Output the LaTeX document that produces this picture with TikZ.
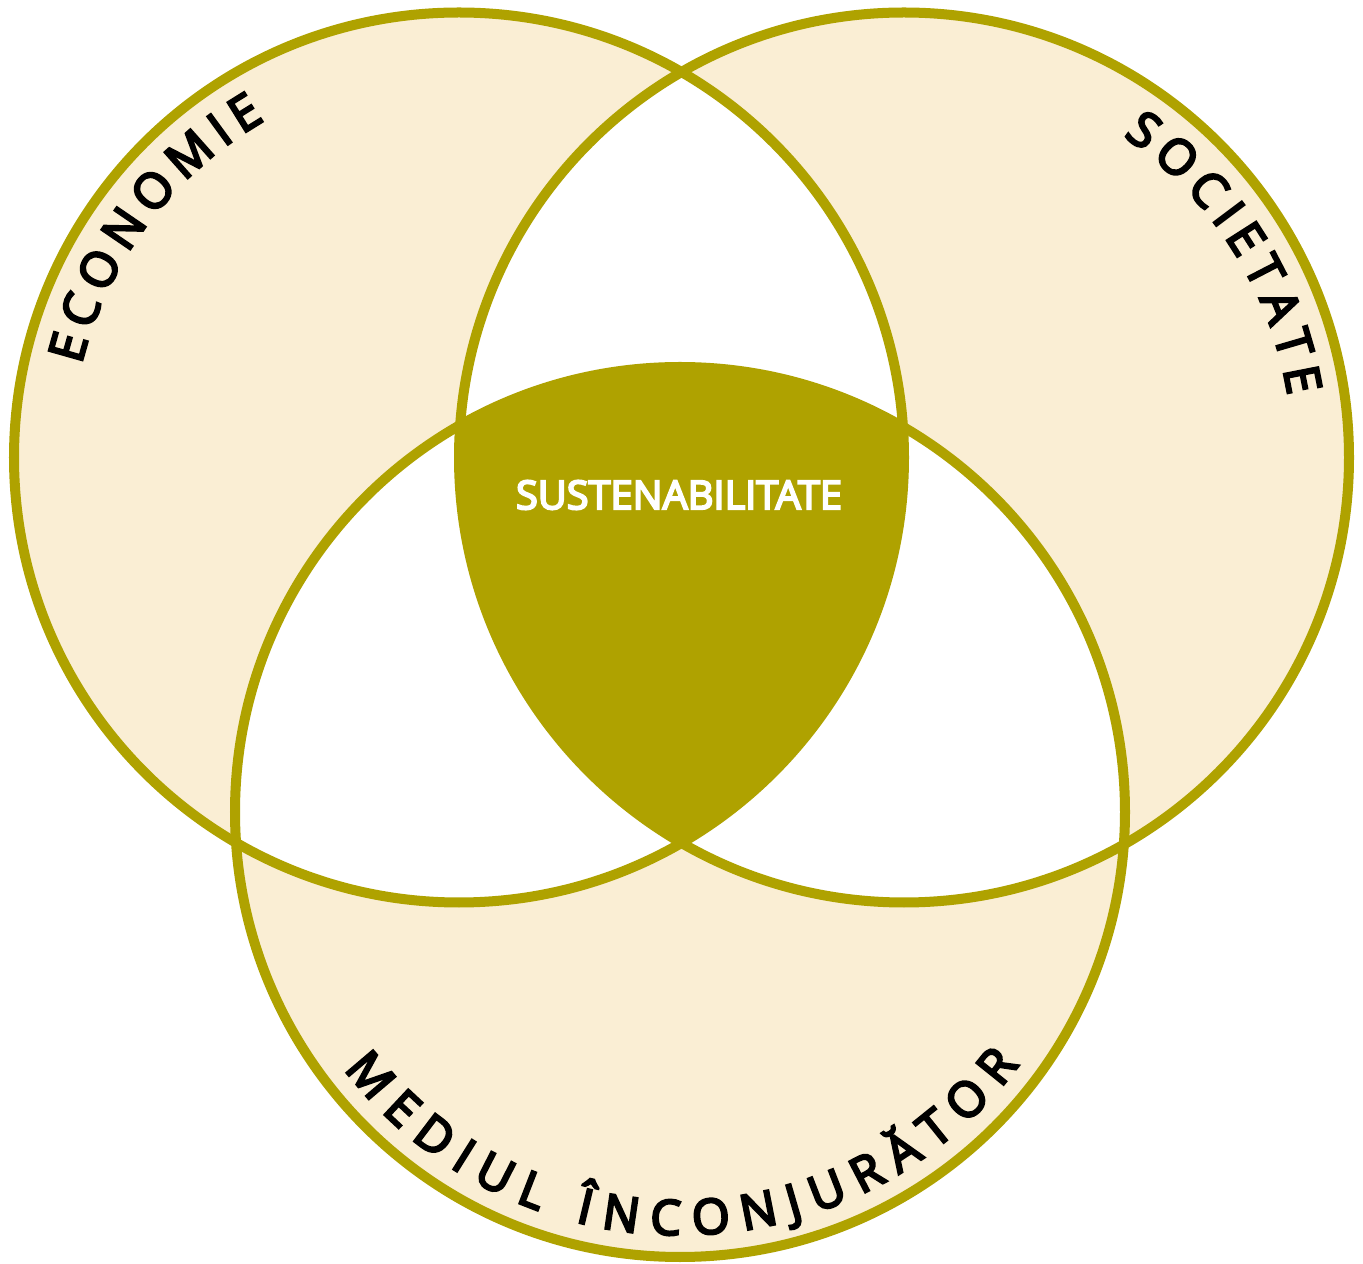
\documentclass[tikz,border=0pt]{standalone}
\usepackage{fontspec}
\setmainfont{Open Sans}[AutoFakeBold=5]
\usetikzlibrary{decorations.text}
\definecolor{vennolive}{RGB}{175,162,0}
\definecolor{vennbeige}{RGB}{250,238,212}
\newcommand{\ringfont}{\fontsize{13.8}{16}\selectfont\bfseries}
\tikzstyle{ring} = [draw=vennolive, line width=0.1cm]
\tikzset{ringtext/.style={decorate, decoration={text along path, text align={fit to path}, text={|\ringfont|#1}}}}

\begin{document}
\begin{tikzpicture}[x=0.01cm, y=0.01cm]
    \useasboundingbox (0,0) rectangle (1363,1263);
    \coordinate (eco) at (459,805.5);
    \coordinate (soc) at (904,805.5);
    \coordinate (env) at (680,451);

    % light fill of the three circles
    \fill[vennbeige] (eco) circle[radius=445];
    \fill[vennbeige] (soc) circle[radius=445];
    \fill[vennbeige] (env) circle[radius=445];

    % overlaps of two circles stay white
    \begin{scope}
        \clip (eco) circle[radius=445];
        \fill[white] (soc) circle[radius=445];
        \fill[white] (env) circle[radius=445];
    \end{scope}
    \begin{scope}
        \clip (soc) circle[radius=445];
        \fill[white] (env) circle[radius=445];
    \end{scope}

    % common part of all three
    \begin{scope}
        \clip (eco) circle[radius=445];
        \clip (soc) circle[radius=445];
        \fill[vennolive] (env) circle[radius=445];
    \end{scope}

    \draw[ring] (eco) circle[radius=445];
    \draw[ring] (soc) circle[radius=445];
    \draw[ring] (env) circle[radius=445];

    \node[font=\fontsize{11.3}{13}\selectfont\bfseries, text=white] (sust) at (679,768) {SUSTENABILITATE};

    % curved labels
    \path[ringtext=ECONOMIE] (eco) ++(166.2:389) arc[start angle=166.2, end angle=119.9, radius=389];
    \path[ringtext=SOCIETATE] (soc) ++(55.7:389) arc[start angle=55.7, end angle=9.1, radius=389];
    \path[ringtext=MEDIUL ÎNCONJURĂTOR] (env) ++(-142.6:423) arc[start angle=-142.6, end angle=-36.7, radius=423];
\end{tikzpicture}
\end{document}
